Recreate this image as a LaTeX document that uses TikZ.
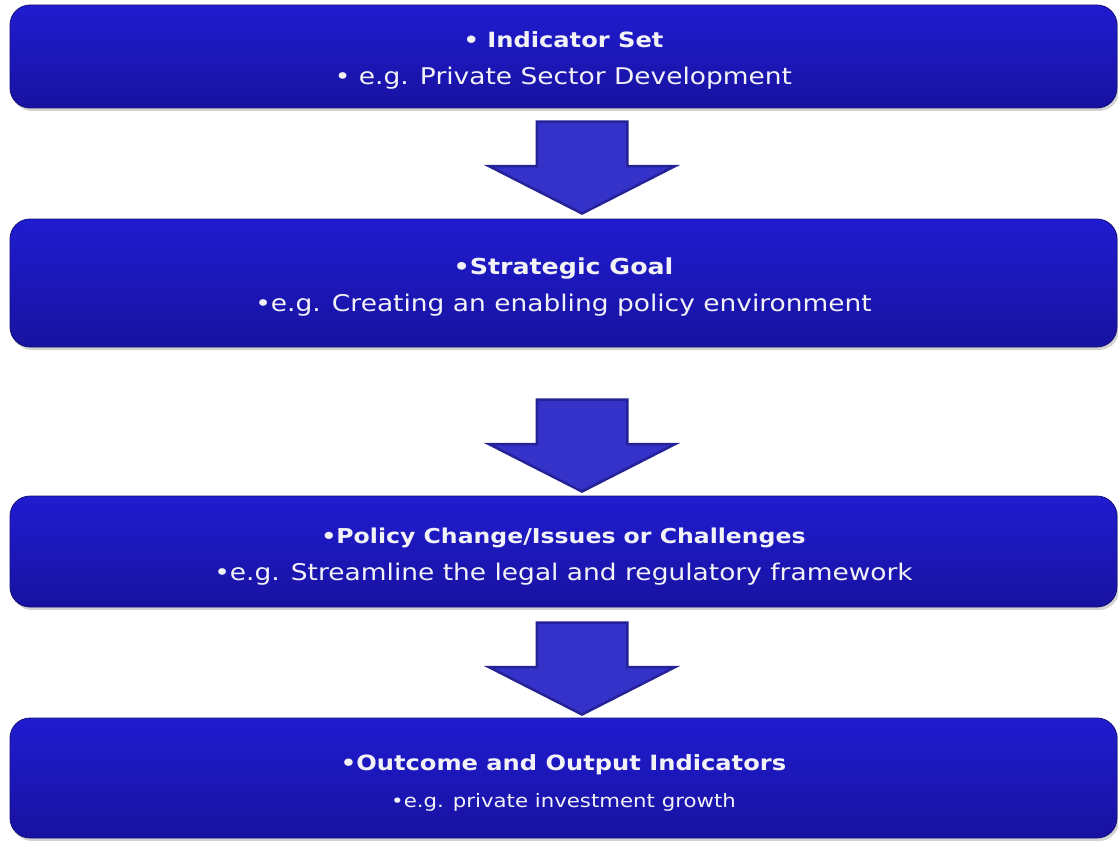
\documentclass[tikz,border=0pt]{standalone}
\usepackage{fontspec}
\setmainfont[FakeStretch=1.15]{DejaVu Sans}
\usepackage{xcolor}
\usetikzlibrary{shapes.arrows, shadows, positioning}
\definecolor{boxtop}{RGB}{32, 28, 208}
\definecolor{boxbot}{RGB}{24, 18, 160}
\definecolor{boxedge}{RGB}{20, 16, 120}
\definecolor{arrowfill}{RGB}{52, 50, 200}
\definecolor{arrowedge}{RGB}{36, 34, 150}
\definecolor{textwhite}{RGB}{242, 242, 246}

\begin{document}
\begin{tikzpicture}[x=1pt, y=-1pt,
    stage/.style={rectangle, rounded corners=20pt, draw=boxedge, line width=0.8pt, top color=boxtop, bottom color=boxbot, minimum width=1107pt, drop shadow={opacity=0.35, shadow xshift=2pt, shadow yshift=-3pt}},
    caption/.style={text=textwhite, align=center, font=\fontsize{23}{37}\selectfont},
    flow/.style={single arrow, draw=arrowedge, line width=2.5pt, fill=arrowfill, shape border rotate=270, minimum height=92pt, inner xsep=44pt, inner ysep=0pt, single arrow head extend=48pt, single arrow tip angle=126}
]
    \useasboundingbox (0,0) rectangle (1118,840);

    % Stages
    \node[stage, minimum height=103pt] (set) at (563.5,56.5) {};
    \node[stage, minimum height=128pt] (goal) at (563.5,283) {};
    \node[stage, minimum height=111pt] (policy) at (563.5,551.5) {};
    \node[stage, minimum height=120pt] (outcome) at (563.5,778) {};

    % Texts
    \node[caption] (set-text) at ([yshift=-3.5pt]set.center) {{\fontsize{21}{37}\selectfont\textbf{• Indicator Set}}\\• e.g. Private Sector Development};
    \node[caption] (goal-text) at ([yshift=-4pt]goal.center) {{\fontsize{22}{37}\selectfont\textbf{•Strategic Goal}}\\•e.g. Creating an enabling policy environment};
    \node[caption] (policy-text) at ([yshift=-5pt]policy.center) {{\fontsize{20.5}{37}\selectfont\textbf{•Policy Change/Issues or Challenges}}\\•e.g. Streamline the legal and regulatory framework};
    \node[caption] (outcome-text) at ([yshift=-5pt]outcome.center) {{\fontsize{21}{37}\selectfont\textbf{•Outcome and Output Indicators}}\\{\fontsize{18.5}{37}\selectfont•e.g. private investment growth}};

    % Arrows
    \node[flow] (a1) at (582,156) {};
    \node[flow] (a2) at (582,434) {};
    \node[flow] (a3) at (582,657) {};
\end{tikzpicture}
\end{document}
